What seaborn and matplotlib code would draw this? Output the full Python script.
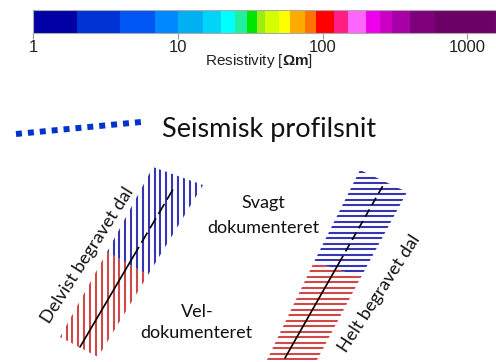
import numpy as np
import matplotlib
matplotlib.use("Agg")
import matplotlib.pyplot as plt
from matplotlib.patches import Polygon
import seaborn as sns

# ==========================================================
# DATA
# ==========================================================

# resistivity colour classes (Ohm m)
class_bounds = [1, 2, 4, 7, 10, 15, 20, 25, 30, 35, 40, 50, 60, 75, 90,
                120, 150, 200, 250, 300, 400, 600, 1575]
class_colors = ["#0000a4", "#0033d6", "#0055f5", "#0088ff", "#00b0f2",
                "#00d4f8", "#00ffff", "#22eea0", "#00e600", "#99ee14",
                "#d4ff00", "#ffff00", "#ffaa00", "#ff7400", "#ff0000",
                "#ff1e82", "#ff66ff", "#ee00ee", "#cc00c4", "#a800a8",
                "#7e007a", "#6c0066"]
tick_values = [1, 10, 100, 1000]
tick_labels = ["1", "10", "100", "1000"]

# seismic profile (dotted line)
seis_x = [16, 141]
seis_y = [134, 122]

# partly buried valley (vertical hatch)
left_red = [(60, 337), (98, 357), (148, 275), (107, 252)]
left_blue = [(107, 252), (148, 275), (203, 185), (153, 167)]
left_solid_x = [80, 133]
left_solid_y = [347, 257]
left_dash_x = [133, 175]
left_dash_y = [257, 186]

# fully buried valley (horizontal hatch)
right_red = [(267, 360), (317, 360), (361, 277), (314, 262)]
right_blue = [(314, 262), (361, 277), (407, 192), (360, 170)]
right_solid_x = [285, 339]
right_solid_y = [358, 263]
right_dash_x = [339, 385]
right_dash_y = [263, 182]

RED = "#d04848"
BLUE = "#3636b4"

# ==========================================================
# FIGURE
# ==========================================================

sns.set_theme(style="white")
plt.rcParams["font.family"] = ["Lato", "DejaVu Sans"]
plt.rcParams["mathtext.fontset"] = "custom"
plt.rcParams["mathtext.rm"] = "Liberation Sans"
plt.rcParams["mathtext.bf"] = "Liberation Sans:bold"

fig = plt.figure(figsize=(4.96, 3.62), dpi=100)

ax = fig.add_axes([0, 0, 1, 1])
ax.set_xlim(0, 496)
ax.set_ylim(362, 0)
ax.axis("off")

# ---------------- colour bar ----------------
cax = fig.add_axes([33 / 496, 1 - 33 / 362, 1 - 33 / 496, 23 / 362])
lefts = np.array(class_bounds[:-1], dtype=float)
widths = np.array(class_bounds[1:], dtype=float) - lefts
cax.barh(0, widths, left=lefts, height=1, color=class_colors,
         edgecolor="none", linewidth=0)
cax.set_xscale("log")
cax.set_xlim(1, class_bounds[-1])
cax.set_ylim(-0.5, 0.5)
cax.set_yticks([])
cax.set_xticks(tick_values)
cax.set_xticklabels(tick_labels, fontfamily="Liberation Sans", fontsize=12,
                    color="#222222")
cax.xaxis.set_minor_locator(matplotlib.ticker.NullLocator())
cax.tick_params(axis="x", bottom=True, direction="out", length=4,
                width=0.8, color="#999999", pad=1)
for sp in cax.spines.values():
    sp.set_color("#aaaaaa")
    sp.set_linewidth(0.8)

ax.text(259, 65, r"Resistivity [$\mathbf{\Omega m}$]", fontfamily="Liberation Sans",
        fontsize=11, ha="center", va="baseline", color="#222222")

# ---------------- seismic line ----------------
sns.lineplot(x=seis_x, y=seis_y, ax=ax, color="#0033cc", lw=4.3,
             dashes=False, sort=False)
ax.lines[-1].set_dashes((1, 1))
ax.lines[-1].set_dash_capstyle("butt")
ax.text(162, 137, "Seismisk profilsnit", fontsize=19.5, ha="left",
        va="baseline", color="#111111")


# ---------------- hatched valleys ----------------
def hatch(poly, color, vertical, start, step):
    clip = Polygon(poly, closed=True, transform=ax.transData)
    pos = np.arange(start, 500, step)
    if vertical:
        coll = ax.vlines(pos, 0, 362, color=color, lw=1.5)
    else:
        coll = ax.hlines(pos, 0, 496, color=color, lw=1.5)
    coll.set_clip_path(clip)


hatch(left_red, RED, True, 2.0, 5.87)
hatch(left_blue, BLUE, True, 2.0, 5.87)
hatch(right_red, RED, False, 1.7, 5.5)
hatch(right_blue, BLUE, False, 1.7, 5.5)

ax.plot(left_solid_x, left_solid_y, color="black", lw=1.2)
ax.plot(left_dash_x, left_dash_y, color="black", lw=1.2, dashes=(7, 3))
ax.plot(right_solid_x, right_solid_y, color="black", lw=1.2)
ax.plot(right_dash_x, right_dash_y, color="black", lw=1.2, dashes=(5, 3))

# ---------------- labels ----------------
ax.text(263, 208, "Svagt", fontsize=13, ha="center", va="baseline", color="#111111")
ax.text(263, 233, "dokumenteret", fontsize=13, ha="center", va="baseline", color="#111111")
ax.text(197, 317, "Vel-", fontsize=13, ha="center", va="baseline", color="#111111")
ax.text(196, 338, "dokumenteret", fontsize=13, ha="center", va="baseline", color="#111111")
ax.text(88, 255, "Delvist begravet dal", fontsize=13, rotation=57.5,
        ha="center", va="center", rotation_mode="anchor", color="#111111")
ax.text(379, 293, "Helt begravet dal", fontsize=13, rotation=57,
        ha="center", va="center", rotation_mode="anchor", color="#111111")

fig.savefig("out.png", dpi=100)
